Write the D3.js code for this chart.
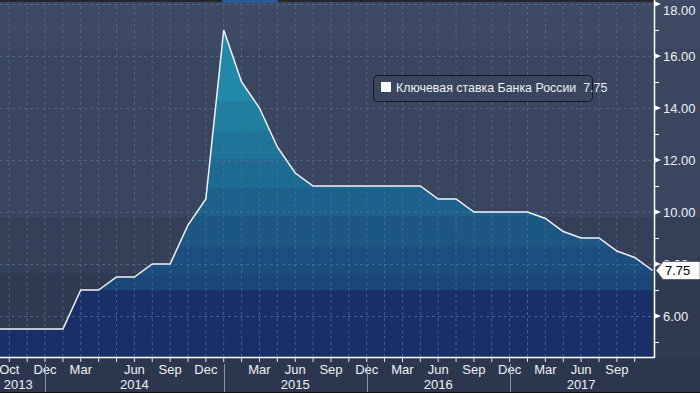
<!DOCTYPE html>
<html><head><meta charset="utf-8">
<script src="https://cdn.jsdelivr.net/npm/d3@7"></script>
<style>html,body{margin:0;padding:0;background:#2f3a52;overflow:hidden}</style>
</head><body><svg id="c" width="700" height="393"></svg>
<script>
// Key rate of the Bank of Russia, one sample per chart point (index -1 .. 36)
const firstIndex = -1;
const rate = [5.5, 5.5, 5.5, 5.5, 5.5, 7, 7, 7.5, 7.5, 8, 8, 9.5, 10.5, 17, 15, 14, 12.5, 11.5,
  11, 11, 11, 11, 11, 11, 11, 10.5, 10.5, 10, 10, 10, 10, 9.75, 9.25, 9, 9, 8.5, 8.25, 7.75];
const monthLabels = ["Oct","Dec","Mar","Jun","Sep","Dec","Mar","Jun","Sep","Dec","Mar","Jun","Sep","Dec","Mar","Jun","Sep"];
const monthIdx = [0, 2, 4, 7, 9, 11, 14, 16, 18, 20, 22, 24, 26, 28, 30, 32, 34];
const yearLabels = ["2013","2014","2015","2016","2017"];
const yearBreakIdx = [2, 12, 20, 28];
const yMajor = [6, 8, 10, 12, 14, 16, 18];
const yMinor = [5, 7, 9, 11, 13, 15, 17];
const seriesName = "Ключевая ставка Банка России";

const W = 700, H = 393, plotBottom = 357, axisX = 654;
const data = rate.map((v, i) => ({i: i + firstIndex, v}));
const lastIdx = data[data.length - 1].i;

const x = d3.scaleLinear().domain([0, lastIdx]).range([9.3, 652.6]);
const y = d3.scaleLinear().domain([6, 18]).range([316, 4]);

const svg = d3.select("#c");
const defs = svg.append("defs");
const font = "'Liberation Sans', Arial, sans-serif";

// stepped background
const bg = [[0, 49, "#3e4a63"], [49, 217, "#3a4660"], [217, 273, "#343f58"], [273, plotBottom, "#2f3a52"]];
bg.forEach(b => svg.append("rect").attr("x", 0).attr("y", b[0]).attr("width", W).attr("height", b[1] - b[0]).attr("fill", b[2]));
svg.append("rect").attr("x", 0).attr("y", plotBottom).attr("width", W).attr("height", H - plotBottom).attr("fill", "#2c374f");
svg.append("rect").attr("x", 0).attr("y", H - 1).attr("width", W).attr("height", 1).attr("fill", "#111");

// stepped area gradient
const bands = [[0, "#2189a9"], [101, "#1f7fa0"], [131, "#1e7599"], [159, "#1d6b92"], [188, "#1c618b"],
  [216, "#1c5784"], [247, "#1b4e7e"], [275, "#1b4678"], [290, "#1a2e68"]];
const grad = defs.append("linearGradient").attr("id", "ag").attr("gradientUnits", "userSpaceOnUse")
  .attr("x1", 0).attr("y1", 0).attr("x2", 0).attr("y2", plotBottom);
bands.forEach((b, k) => {
  const end = k < bands.length - 1 ? bands[k + 1][0] : plotBottom;
  grad.append("stop").attr("offset", b[0] / plotBottom).attr("stop-color", b[1]);
  grad.append("stop").attr("offset", end / plotBottom).attr("stop-color", b[1]);
});

defs.append("clipPath").attr("id", "pc").append("rect").attr("x", 0).attr("y", 0).attr("width", axisX).attr("height", plotBottom);
const plot = svg.append("g").attr("clip-path", "url(#pc)");

plot.append("path").datum(data)
  .attr("d", d3.area().x(d => x(d.i)).y0(plotBottom).y1(d => y(d.v)))
  .attr("fill", "url(#ag)");

// grid
const gridCol = "#4d7193";
d3.range(0, lastIdx).forEach(i => plot.append("line").attr("x1", x(i)).attr("x2", x(i)).attr("y1", 0).attr("y2", plotBottom)
  .attr("stroke", gridCol).attr("stroke-width", 1).attr("stroke-dasharray", "3,3").attr("opacity", 0.8));
yMajor.forEach(v => plot.append("line").attr("x1", 0).attr("x2", axisX).attr("y1", Math.round(y(v)) + 0.5).attr("y2", Math.round(y(v)) + 0.5)
  .attr("stroke", gridCol).attr("stroke-width", 1).attr("stroke-dasharray", "3,3").attr("opacity", 0.8));

plot.append("path").datum(data)
  .attr("d", d3.line().x(d => x(d.i)).y(d => y(d.v)))
  .attr("fill", "none").attr("stroke", "#f2f4f8").attr("stroke-width", 1.5);

// top strip
svg.append("rect").attr("x", 0).attr("y", 0).attr("width", axisX).attr("height", 2).attr("fill", "#23262c");
svg.append("rect").attr("x", 222).attr("y", 0).attr("width", 56).attr("height", 3).attr("fill", "#2b5a92");

// axes lines
svg.append("line").attr("x1", 0).attr("x2", axisX + 0.5).attr("y1", plotBottom + 0.5).attr("y2", plotBottom + 0.5).attr("stroke", "#fff").attr("stroke-width", 1.5);
svg.append("line").attr("x1", axisX + 0.5).attr("x2", axisX + 0.5).attr("y1", 0).attr("y2", plotBottom + 1).attr("stroke", "#fff").attr("stroke-width", 1.5);

// x ticks
d3.range(0, lastIdx).forEach(i => svg.append("line").attr("x1", x(i)).attr("x2", x(i)).attr("y1", plotBottom).attr("y2", plotBottom + 5)
  .attr("stroke", "#e8e8e8").attr("stroke-width", 1));
monthIdx.forEach((m, k) => svg.append("text").attr("x", x(m)).attr("y", 374).attr("text-anchor", "middle")
  .attr("font-family", font).attr("font-size", "13px").attr("fill", "#eef0f4").text(monthLabels[k]));
const yb = [firstIndex].concat(yearBreakIdx, [lastIdx]);
yearBreakIdx.forEach(i => svg.append("line").attr("x1", Math.round(x(i)) + 0.5).attr("x2", Math.round(x(i)) + 0.5).attr("y1", 364).attr("y2", H - 1)
  .attr("stroke", "#8a93a3").attr("stroke-width", 1));
yearLabels.forEach((t, k) => svg.append("text").attr("x", (x(yb[k]) + x(yb[k + 1])) / 2).attr("y", 389).attr("text-anchor", "middle")
  .attr("font-family", font).attr("font-size", "13px").attr("fill", "#eef0f4").text(t));

// y axis (right)
yMinor.forEach(v => svg.append("line").attr("x1", axisX).attr("x2", axisX + 5).attr("y1", Math.round(y(v)) + 0.5).attr("y2", Math.round(y(v)) + 0.5)
  .attr("stroke", "#fff").attr("stroke-width", 1));
yMajor.forEach(v => {
  const yy = y(v);
  svg.append("path").attr("d", `M${axisX},${yy - 3}L${axisX + 7},${yy}L${axisX},${yy + 3}Z`).attr("fill", "#fff");
  svg.append("text").attr("x", 663).attr("y", Math.max(yy + 4.5, 15)).attr("font-family", font).attr("font-size", "13px")
    .attr("fill", "#eef0f4").text(d3.format(".2f")(v));
});

// last value callout
const lv = rate[rate.length - 1], ly = y(lv);
svg.append("path").attr("d", `M656,${ly}L663,${ly - 9}L700,${ly - 9}L700,${ly + 9}L663,${ly + 9}Z`)
  .attr("fill", "#fff").attr("stroke", "#222").attr("stroke-width", 0.5);
svg.append("text").attr("x", 665).attr("y", ly + 4.5).attr("font-family", font).attr("font-size", "13px")
  .attr("fill", "#000").text(d3.format(".2f")(lv));

// legend
const lg = svg.append("g");
lg.append("rect").attr("x", 373.5).attr("y", 75.5).attr("width", 219).attr("height", 26).attr("rx", 4)
  .attr("fill", "#3a4660").attr("stroke", "#15171c").attr("stroke-width", 1);
lg.append("rect").attr("x", 381).attr("y", 82).attr("width", 10).attr("height", 10).attr("fill", "#fff");
lg.append("text").attr("x", 396).attr("y", 92).attr("font-family", font).attr("font-size", "12.4px")
  .attr("fill", "#eef0f4").attr("xml:space", "preserve").style("white-space", "pre")
  .text(seriesName + "  " + d3.format(".2f")(lv));
</script></body></html>
